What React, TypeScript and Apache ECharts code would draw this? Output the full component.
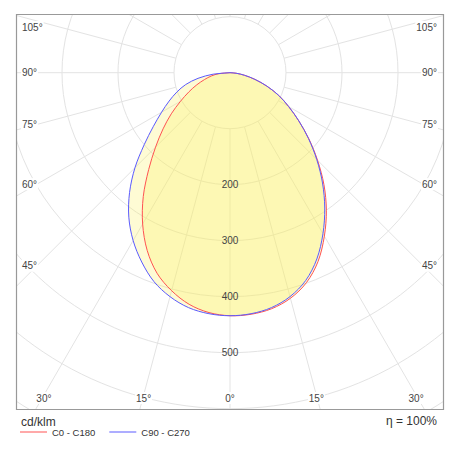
import React, { useEffect, useRef } from 'react';
import * as echarts from 'echarts';

// Photometric data: luminous intensity (cd/klm) by vertical angle gamma (degrees from nadir)
const gammaSteps = [0, 5, 10, 15, 20, 25, 30, 35, 40, 45, 50, 55, 60, 65, 70, 75, 80, 85, 90];
const intensityC0 = [434, 433, 428, 417, 399, 372, 337, 300, 261, 221, 184, 150, 121, 96, 70, 46, 26, 11, 0];
const intensityC180 = [434, 430, 420, 403, 381, 350, 312, 270, 226, 188, 156, 128, 102, 81, 63, 47, 34, 20, 0];
const intensityC90 = [434, 432, 426, 414, 395, 367, 332, 295, 257, 219, 183, 150, 121, 96, 70, 46, 26, 11, 0];
const intensityC270 = [434, 432, 426, 414, 397, 373, 346, 315, 279, 240, 200, 167, 141, 120, 101, 82, 58, 30, 0];

const seriesNames = ['C0 - C180', 'C90 - C270'];
const radiusTickLabels = [200, 300, 400, 500];
const sideAngleLabels = [45, 60, 75, 90, 105];
const bottomAngleLabels = [0, 15, 30];
const unitText = 'cd/klm';
const efficiencyText = 'η = 100%';

const FONT = '"Liberation Sans", Arial, Helvetica, sans-serif';
const RED = '#ff5252';
const BLUE = '#5a5aff';
const FILL = 'rgba(252, 242, 95, 0.27)';
const GRID = '#e3e3e3';
const CENTER: [number, number] = [230, 72.7];
const OUTER = 448;

// right half (C0 / C90) is drawn at angle 360-gamma, left half (C180 / C270) at gamma
function buildCurve(right: number[], left: number[]) {
  const pts: number[][] = [];
  for (let i = gammaSteps.length - 1; i >= 1; i--) pts.push([right[i], 360 - gammaSteps[i]]);
  for (let i = 0; i < gammaSteps.length; i++) pts.push([left[i], gammaSteps[i]]);
  return pts;
}

const redCurve = buildCurve(intensityC0, intensityC180);
const blueCurve = buildCurve(intensityC90, intensityC270);

function curveSeries(name: string, data: number[][], color: string, mode: 'fill' | 'line') {
  return {
    name,
    type: 'custom',
    coordinateSystem: 'polar',
    polarIndex: 1,
    data,
    silent: true,
    z: mode === 'fill' ? 3 : 4,
    itemStyle: { color },
    renderItem: (params: any, api: any) => {
      if (params.dataIndexInside !== 0) return null;
      const n = params.dataInsideLength;
      const points: number[][] = [];
      for (let i = 0; i < n; i++) {
        points.push(api.coord([api.value(0, i), api.value(1, i)]));
      }
      return {
        type: 'polygon',
        shape: { points, smooth: 0.33 },
        style: mode === 'fill'
          ? { fill: FILL, stroke: 'none' }
          : { fill: 'none', stroke: color, lineWidth: 1 },
      };
    },
  };
}

export default function App() {
  const ref = useRef<HTMLDivElement>(null);

  useEffect(() => {
    if (!ref.current) return;
    const chart = echarts.init(ref.current, undefined, { renderer: 'svg' });

    const option: any = {
      animation: false,
      backgroundColor: '#ffffff',
      textStyle: { fontFamily: FONT },
      polar: [
        { center: CENTER, radius: [OUTER * 100 / 800, OUTER] },
        { center: CENTER, radius: [0, OUTER] },
      ],
      angleAxis: [
        {
          polarIndex: 0, type: 'value', min: 0, max: 360, interval: 15, startAngle: 270, clockwise: true,
          axisLine: { show: false }, axisTick: { show: false }, axisLabel: { show: false },
          splitLine: { show: true, lineStyle: { color: GRID, width: 1 } },
        },
        {
          polarIndex: 1, type: 'value', min: 0, max: 360, interval: 15, startAngle: 270, clockwise: true,
          show: false,
        },
      ],
      radiusAxis: [
        {
          polarIndex: 0, type: 'value', min: 100, max: 800, interval: 100,
          axisLine: { show: false }, axisTick: { show: false }, axisLabel: { show: false },
          splitLine: { show: true, lineStyle: { color: GRID, width: 1 } },
        },
        {
          polarIndex: 1, type: 'value', min: 0, max: 800, interval: 100, z: 10,
          axisLine: { show: false }, axisTick: { show: false }, splitLine: { show: false },
          axisLabel: {
            show: true, margin: 0, align: 'center', verticalAlign: 'middle',
            color: '#444', fontSize: 10, fontFamily: FONT,
            formatter: (v: number) => (radiusTickLabels.indexOf(Number(v)) >= 0 ? String(v) : ''),
          },
        },
      ],
      legend: {
        left: 20, top: 427, padding: 0, z: 120,
        icon: 'rect', itemWidth: 27, itemHeight: 1, itemGap: 14,
        textStyle: { fontSize: 9.5, color: '#333', fontFamily: FONT },
        data: seriesNames,
      },
      series: [
        curveSeries('fill ' + seriesNames[0], redCurve, RED, 'fill'),
        curveSeries('fill ' + seriesNames[1], blueCurve, BLUE, 'fill'),
        curveSeries(seriesNames[0], redCurve, RED, 'line'),
        curveSeries(seriesNames[1], blueCurve, BLUE, 'line'),
      ],
    };
    chart.setOption(option);

    const toPx = (r: number, a: number): number[] => {
      const p = chart.convertToPixel({ polarIndex: 1 } as any, [r, a]) as any;
      if (p && p.length === 2) return p;
      const ang = ((270 - a) * Math.PI) / 180;
      return [CENTER[0] + (r / 800) * OUTER * Math.cos(ang), CENTER[1] - (r / 800) * OUTER * Math.sin(ang)];
    };
    const c = toPx(0, 0);

    const frame = { x: 16, y: 14, w: 427, h: 395 };
    const labelStyle = (text: string, x: number, y: number, align: string) => ({
      type: 'text', z: 102,
      style: {
        text, x, y, align, verticalAlign: 'middle', fill: '#444',
        font: `10px ${FONT}`, backgroundColor: '#fff', padding: [1, 1],
      },
    });

    const angleTexts: any[] = [];
    const sideLabel = (g: number, left: boolean) => {
      const a = left ? g : 360 - g;
      const p = toPx(100, a);
      const dx = p[0] - c[0];
      const dy = p[1] - c[1];
      const xt = left ? 37 : 423;
      const t = (xt - c[0]) / dx;
      const y = Math.max(c[1] + t * dy, 27);
      angleTexts.push(labelStyle(`${g}°`, left ? 21 : 438, y, left ? 'left' : 'right'));
    };
    const bottomLabel = (g: number, left: boolean) => {
      const a = left ? g : 360 - g;
      const p = toPx(100, a);
      const dx = p[0] - c[0];
      const dy = p[1] - c[1];
      const t = (395 - c[1]) / dy;
      const x = Math.min(Math.max(c[0] + t * dx, 31), 429);
      angleTexts.push(labelStyle(`${g}°`, x, 398, 'center'));
    };
    sideAngleLabels.forEach((g) => { sideLabel(g, true); sideLabel(g, false); });
    bottomAngleLabels.forEach((g) => {
      bottomLabel(g, true);
      if (g !== 0) bottomLabel(g, false);
    });

    const white = { fill: '#fff' };
    chart.setOption({
      graphic: [
        { type: 'rect', z: 100, silent: true, shape: { x: 0, y: 0, width: 460, height: frame.y }, style: white },
        { type: 'rect', z: 100, silent: true, shape: { x: 0, y: frame.y + frame.h, width: 460, height: 460 }, style: white },
        { type: 'rect', z: 100, silent: true, shape: { x: 0, y: 0, width: frame.x, height: 460 }, style: white },
        { type: 'rect', z: 100, silent: true, shape: { x: frame.x + frame.w, y: 0, width: 40, height: 460 }, style: white },
        {
          type: 'rect', z: 101, silent: true,
          shape: { x: frame.x + 0.5, y: frame.y + 0.5, width: frame.w, height: frame.h },
          style: { fill: 'none', stroke: '#999', lineWidth: 1.2 },
        },
        ...angleTexts,
        {
          type: 'text', z: 102,
          style: { text: unitText, x: 21, y: 422, align: 'left', verticalAlign: 'middle', fill: '#333', font: `12px ${FONT}` },
        },
        {
          type: 'text', z: 102,
          style: { text: efficiencyText, x: 437, y: 421, align: 'right', verticalAlign: 'middle', fill: '#333', font: `12px ${FONT}` },
        },
      ],
    });

    return () => chart.dispose();
  }, []);

  return <div ref={ref} style={{ position: 'absolute', left: 0, top: 0, width: 460, height: 460 }} />;
}
